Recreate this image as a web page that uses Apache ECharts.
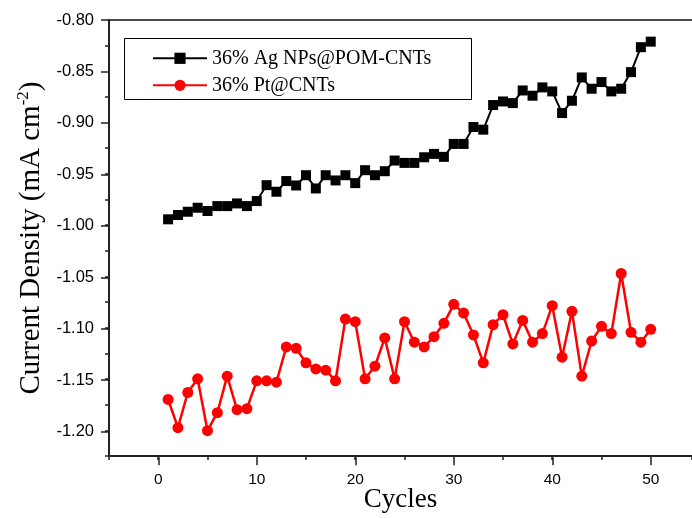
<!DOCTYPE html>
<html>
<head>
<meta charset="utf-8">
<script src="https://cdn.jsdelivr.net/npm/echarts@6/dist/echarts.min.js"></script>
<style>
html,body{margin:0;padding:0;background:#fff;}
#chart{width:692px;height:518px;}
</style>
</head>
<body>
<div id="chart"></div>
<script>
const cycles = [1,2,3,4,5,6,7,8,9,10,11,12,13,14,15,16,17,18,19,20,21,22,23,24,25,26,27,28,29,30,31,32,33,34,35,36,37,38,39,40,41,42,43,44,45,46,47,48,49,50];
const agPomCnts = [
  -0.9943,-0.9901,-0.9869,-0.9830,-0.9862,-0.9814,-0.9814,-0.9788,-0.9814,-0.9765,
  -0.9610,-0.9674,-0.9570,-0.9613,-0.9513,-0.9642,-0.9513,-0.9564,-0.9513,-0.9590,
  -0.9464,-0.9513,-0.9474,-0.9370,-0.9393,-0.9393,-0.9338,-0.9305,-0.9334,-0.9208,
  -0.9208,-0.9043,-0.9069,-0.8829,-0.8794,-0.8810,-0.8687,-0.8738,-0.8657,-0.8696,
  -0.8907,-0.8787,-0.8560,-0.8670,-0.8605,-0.8696,-0.8670,-0.8508,-0.8265,-0.8211
];
const ptCnts = [
  -1.1699,-1.1974,-1.1631,-1.1498,-1.2003,-1.1828,-1.1472,-1.1799,-1.1789,-1.1517,
  -1.1517,-1.1530,-1.1187,-1.1200,-1.1342,-1.1401,-1.1413,-1.1517,-1.0915,-1.0941,
  -1.1498,-1.1375,-1.1099,-1.1498,-1.0941,-1.1141,-1.1187,-1.1087,-1.0957,-1.0772,
  -1.0857,-1.1070,-1.1342,-1.0970,-1.0873,-1.1158,-1.0928,-1.1141,-1.1057,-1.0785,
  -1.1287,-1.0840,-1.1472,-1.1129,-1.0986,-1.1057,-1.0471,-1.1044,-1.1141,-1.1015
];
const seriesNames = ['36% Ag NPs@POM-CNTs', '36% Pt@CNTs'];
const xTickValues = [0, 10, 20, 30, 40, 50];
const yTickValues = [-1.20, -1.15, -1.10, -1.05, -1.00, -0.95, -0.90, -0.85, -0.80];

const axisColor = '#222';
const chart = echarts.init(document.getElementById('chart'), null, {renderer: 'canvas'});
const pairs = arr => cycles.map((c, i) => [c, arr[i]]);

chart.setOption({
  animation: false,
  backgroundColor: '#fff',
  grid: [
    {left: 109, right: 0, top: 20, bottom: 60.7},
    {left: 158.25, right: 41.25, top: 20, bottom: 60.7},
    {left: 109, right: 0, top: 20, bottom: 86.3}
  ],
  xAxis: [
    {
      gridIndex: 0, type: 'value', position: 'bottom',
      min: -5, max: 54.19, interval: 5,
      axisLine: {show: true, onZero: false, lineStyle: {color: axisColor, width: 2}},
      axisTick: {show: true, length: 4, lineStyle: {color: axisColor, width: 1.5}},
      axisLabel: {show: false}, splitLine: {show: false},
      name: 'Cycles', nameLocation: 'middle', nameGap: 30,
      nameTextStyle: {fontFamily: 'Liberation Serif', fontSize: 27, color: '#000'}
    },
    {
      gridIndex: 0, type: 'value', position: 'top',
      min: -5, max: 54.19,
      axisLine: {show: true, onZero: false, lineStyle: {color: '#111', width: 1.5}},
      axisTick: {show: false}, axisLabel: {show: false}, splitLine: {show: false}
    },
    {
      gridIndex: 1, type: 'value', position: 'bottom',
      min: xTickValues[0], max: xTickValues[xTickValues.length - 1], interval: 10,
      axisLine: {show: false, onZero: false},
      axisTick: {show: true, length: 8, lineStyle: {color: axisColor, width: 1.5}},
      axisLabel: {show: true, margin: 14, fontFamily: 'Liberation Sans', fontSize: 15.5, color: '#000'},
      splitLine: {show: false}
    },
    {gridIndex: 2, type: 'value', show: false, min: -5, max: 54.19, axisLine: {onZero: false}}
  ],
  yAxis: [
    {
      gridIndex: 0, type: 'value', position: 'left',
      min: -1.225, max: -0.8, interval: 0.025,
      axisLine: {show: true, onZero: false, lineStyle: {color: axisColor, width: 2}},
      axisTick: {show: true, length: 4, lineStyle: {color: axisColor, width: 1.5}},
      axisLabel: {show: false}, splitLine: {show: false},
      name: '{n|Current Density (mA cm}{s|-2}{n|)}',
      nameLocation: 'middle', nameGap: 62, nameRotate: 90,
      nameTextStyle: {
        fontFamily: 'Liberation Serif', fontSize: 29, color: '#000',
        rich: {
          n: {fontFamily: 'Liberation Serif', fontSize: 29, color: '#000', lineHeight: 32},
          s: {fontFamily: 'Liberation Serif', fontSize: 17, color: '#000', verticalAlign: 'top', lineHeight: 32, padding: [0, 0, 14, 0]}
        }
      }
    },
    {gridIndex: 1, type: 'value', show: false, min: -1.225, max: -0.8, axisLine: {onZero: false}},
    {
      gridIndex: 2, type: 'value', position: 'left',
      min: yTickValues[0], max: yTickValues[yTickValues.length - 1], interval: 0.05,
      axisLine: {show: false, onZero: false},
      axisTick: {show: true, length: 8, lineStyle: {color: axisColor, width: 1.5}},
      axisLabel: {show: true, margin: 15, fontFamily: 'Liberation Sans', fontSize: 16.5, color: '#000',
        formatter: v => v.toFixed(2)},
      splitLine: {show: false}
    }
  ],
  legend: {
    orient: 'vertical', left: 147, top: 43.3,
    itemWidth: 54, itemHeight: 14, itemGap: 7,
    textStyle: {fontFamily: 'Liberation Serif', fontSize: 20, color: '#000'},
    data: seriesNames
  },
  graphic: [
    {type: 'rect', left: 122, top: 36, shape: {width: 347, height: 61},
     style: {fill: 'none', stroke: '#000', lineWidth: 1}, z: 100}
  ],
  series: [
    {
      name: seriesNames[0], type: 'line', xAxisIndex: 0, yAxisIndex: 0,
      data: pairs(agPomCnts),
      symbol: 'rect', symbolSize: 10,
      lineStyle: {color: '#000', width: 2},
      itemStyle: {color: '#000'}
    },
    {
      name: seriesNames[1], type: 'line', xAxisIndex: 0, yAxisIndex: 0,
      data: pairs(ptCnts),
      symbol: 'circle', symbolSize: 11,
      lineStyle: {color: '#ff0000', width: 2.5},
      itemStyle: {color: '#ff0000'}
    }
  ]
});
</script>
</body>
</html>
